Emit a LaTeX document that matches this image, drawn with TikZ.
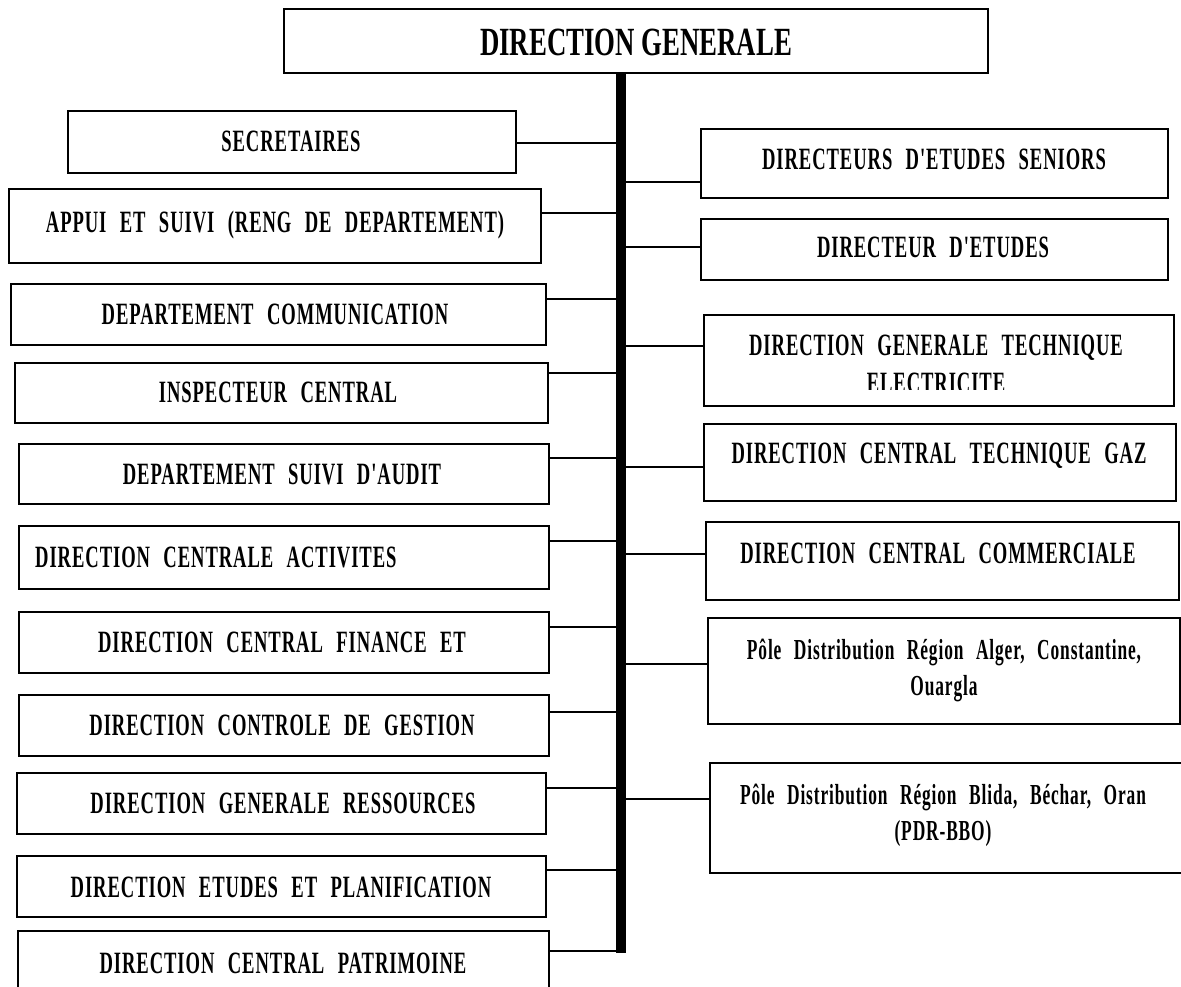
\documentclass[tikz,border=0pt]{standalone}
\usepackage{fontspec}
\newfontfamily\orgfont[FakeStretch=0.6,LetterSpace=3,WordSpace=2.4]{Liberation Serif}
\newfontfamily\titlefont[FakeStretch=0.67]{Liberation Serif}
\begin{document}
\begin{tikzpicture}[x=1pt,y=-1pt,
  box/.style={draw, line width=1.8pt, anchor=north west, inner sep=0pt},
  lbl/.style={font={\orgfont\bfseries\fontsize{31}{37}\selectfont}, inner sep=0pt, anchor=base, align=center},
  pole/.style={lbl, font={\orgfont\bfseries\fontsize{29}{36}\selectfont}},
  ttl/.style={font={\titlefont\bfseries\fontsize{40}{46}\selectfont}, inner sep=0pt, anchor=base},
  link/.style={line width=1.8pt},
  trunk/.style={line width=10pt}]
\useasboundingbox (0,0) rectangle (1181,987);

% head of the organisation
\node[box, minimum width=704pt, minimum height=64pt] (dg) at (283,8) {};
\node[ttl] (tdg) at (636,56) {DIRECTION GENERALE};

% vertical trunk
\coordinate (tb) at (621,953);
\draw[trunk] (dg.south -| tb) -- (tb);

% left column
\node[box, minimum width=448pt, minimum height=62pt] (s1) at (67,110) {};
\node[lbl] (t1) at (291,152) {SECRETAIRES};
\node[box, minimum width=532pt, minimum height=74pt] (s2) at (8,188) {};
\node[lbl] (t2) at (275,233) {APPUI ET SUIVI (RENG DE DEPARTEMENT)};
\node[box, minimum width=535pt, minimum height=61pt] (s3) at (10,283) {};
\node[lbl] (t3) at (275,324) {DEPARTEMENT COMMUNICATION};
\node[box, minimum width=533pt, minimum height=60pt] (s4) at (14,362) {};
\node[lbl] (t4) at (278,402) {INSPECTEUR CENTRAL};
\node[box, minimum width=530pt, minimum height=60pt] (s5) at (18,443) {};
\node[lbl] (t5) at (282,484) {DEPARTEMENT SUIVI D'AUDIT};
\node[box, minimum width=530pt, minimum height=63pt] (s6) at (18,525) {};
\node[lbl, anchor=base west] (t6) at (35,567) {DIRECTION CENTRALE ACTIVITES};
\node[box, minimum width=530pt, minimum height=61pt] (s7) at (18,611) {};
\node[lbl] (t7) at (282,652) {DIRECTION CENTRAL FINANCE ET};
\node[box, minimum width=530pt, minimum height=61pt] (s8) at (18,694) {};
\node[lbl] (t8) at (282,735) {DIRECTION CONTROLE DE GESTION};
\node[box, minimum width=529pt, minimum height=61pt] (s9) at (16,772) {};
\node[lbl] (t9) at (283,813) {DIRECTION GENERALE RESSOURCES};
\node[box, minimum width=529pt, minimum height=61pt] (s10) at (16,855) {};
\node[lbl] (t10) at (281,897) {DIRECTION ETUDES ET PLANIFICATION};
\node[box, minimum width=531pt, minimum height=75pt] (s11) at (17,930) {};
\node[lbl] (t11) at (283,973) {DIRECTION CENTRAL PATRIMOINE};

% right column (multi-line labels are placed by the baseline of their last line)
\node[box, minimum width=467pt, minimum height=69pt] (r1) at (700,128) {};
\node[lbl] (u1) at (934,170) {DIRECTEURS D'ETUDES SENIORS};
\node[box, minimum width=467pt, minimum height=61pt] (r2) at (700,218) {};
\node[lbl] (u2) at (933,258) {DIRECTEUR D'ETUDES};
\node[box, minimum width=470pt, minimum height=91pt] (r3) at (703,314) {};
\begin{scope}
  \clip (703,314) rectangle (1173,389);
  \node[lbl, font={\orgfont\bfseries\fontsize{31}{38}\selectfont}] (u3) at (936,393) {DIRECTION GENERALE TECHNIQUE\\ELECTRICITE};
\end{scope}
\node[box, minimum width=472pt, minimum height=77pt] (r4) at (703,423) {};
\node[lbl] (u4) at (939,463) {DIRECTION CENTRAL TECHNIQUE GAZ};
\node[box, minimum width=473pt, minimum height=78pt] (r5) at (705,521) {};
\node[lbl] (u5) at (938,563) {DIRECTION CENTRAL COMMERCIALE};
\node[box, minimum width=472pt, minimum height=106pt] (r6) at (707,617) {};
\node[pole] (u6) at (944,695) {Pôle Distribution Région Alger, Constantine,\\Ouargla};
\node[box, minimum width=480pt, minimum height=110pt] (r7) at (709,762) {};
\node[pole] (u7) at (943,840) {Pôle Distribution Région Blida, Béchar, Oran\\(PDR-BBO)};

% junctions on the trunk
\foreach \n/\y in {1/143,2/213,3/299,4/373,5/458,6/541,7/627,8/712,9/788,10/870,11/951}{
  \coordinate (jl\n) at (621,\y);
  \draw[link] (jl\n -| s\n.east) -- (jl\n);
}
\foreach \n/\y in {1/182,2/247,3/346,4/467,5/554,6/664,7/799}{
  \coordinate (jr\n) at (621,\y);
  \draw[link] (jr\n) -- (jr\n -| r\n.west);
}
\end{tikzpicture}
\end{document}
